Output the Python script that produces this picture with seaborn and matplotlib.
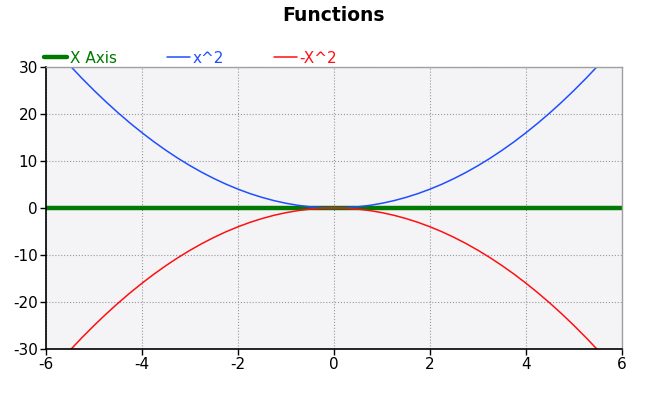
import numpy as np
import pandas as pd
import matplotlib
matplotlib.use("Agg")
import matplotlib.pyplot as plt
import seaborn as sns

# --- data ---
x_vals = [-6.0, -5.75, -5.5, -5.25, -5.0, -4.75, -4.5, -4.25, -4.0, -3.75, -3.5, -3.25,
          -3.0, -2.75, -2.5, -2.25, -2.0, -1.75, -1.5, -1.25, -1.0, -0.75, -0.5, -0.25,
          0.0, 0.25, 0.5, 0.75, 1.0, 1.25, 1.5, 1.75, 2.0, 2.25, 2.5, 2.75,
          3.0, 3.25, 3.5, 3.75, 4.0, 4.25, 4.5, 4.75, 5.0, 5.25, 5.5, 5.75, 6.0]
x_sq = [36.0, 33.06, 30.25, 27.56, 25.0, 22.56, 20.25, 18.06, 16.0, 14.06, 12.25, 10.56,
        9.0, 7.56, 6.25, 5.06, 4.0, 3.06, 2.25, 1.56, 1.0, 0.56, 0.25, 0.06,
        0.0, 0.06, 0.25, 0.56, 1.0, 1.56, 2.25, 3.06, 4.0, 5.06, 6.25, 7.56,
        9.0, 10.56, 12.25, 14.06, 16.0, 18.06, 20.25, 22.56, 25.0, 27.56, 30.25, 33.06, 36.0]
neg_x_sq = [-36.0, -33.06, -30.25, -27.56, -25.0, -22.56, -20.25, -18.06, -16.0, -14.06, -12.25, -10.56,
            -9.0, -7.56, -6.25, -5.06, -4.0, -3.06, -2.25, -1.56, -1.0, -0.56, -0.25, -0.06,
            0.0, -0.06, -0.25, -0.56, -1.0, -1.56, -2.25, -3.06, -4.0, -5.06, -6.25, -7.56,
            -9.0, -10.56, -12.25, -14.06, -16.0, -18.06, -20.25, -22.56, -25.0, -27.56, -30.25, -33.06, -36.0]
axis_x = [-6.0, 6.0]
axis_y = [0.0, 0.0]

x_ticks = [-6, -4, -2, 0, 2, 4, 6]
y_ticks = [-30, -20, -10, 0, 10, 20, 30]

sns.set_style("white")
plt.rcParams['font.family'] = ['DejaVu Sans']
plt.rcParams['axes.unicode_minus'] = False

fig = plt.figure(figsize=(6.68, 3.95), dpi=100)
ax = fig.add_axes([0.069, 0.1165, 0.862, 0.714])
ax.set_facecolor("#f4f4f7")

sns.lineplot(x=axis_x, y=axis_y, ax=ax, color="#007a00", linewidth=3.2, label="X Axis")
sns.lineplot(x=x_vals, y=x_sq, ax=ax, color="#1f4fff", linewidth=1.1, label="x^2", sort=False)
sns.lineplot(x=x_vals, y=neg_x_sq, ax=ax, color="#ff1010", linewidth=1.1, label="-X^2", sort=False)

ax.set_xlim(-6, 6)
ax.set_ylim(-30, 30)
ax.set_xticks(x_ticks)
ax.set_yticks(y_ticks)
ax.tick_params(axis="both", labelsize=11, length=4, width=1, direction="out",
               colors="black", bottom=True, left=True, pad=2)
ax.grid(True, linestyle=":", color="#999999", linewidth=0.8)
ax.set_axisbelow(True)

for side in ["left", "bottom"]:
    ax.spines[side].set_color("black")
    ax.spines[side].set_linewidth(1.2)
for side in ["top", "right"]:
    ax.spines[side].set_color("#a0a0a0")
    ax.spines[side].set_linewidth(1.0)

leg = ax.legend(loc="lower left", bbox_to_anchor=(-0.003, 1.005), ncol=3, frameon=False,
                fontsize=11, handlelength=1.5, handletextpad=0.15, columnspacing=3.3,
                labelcolor="linecolor", borderaxespad=0, borderpad=0)

fig.suptitle("Functions", fontsize=13.5, fontweight="bold", color="black", y=0.985)

fig.savefig("out.png", dpi=100)
